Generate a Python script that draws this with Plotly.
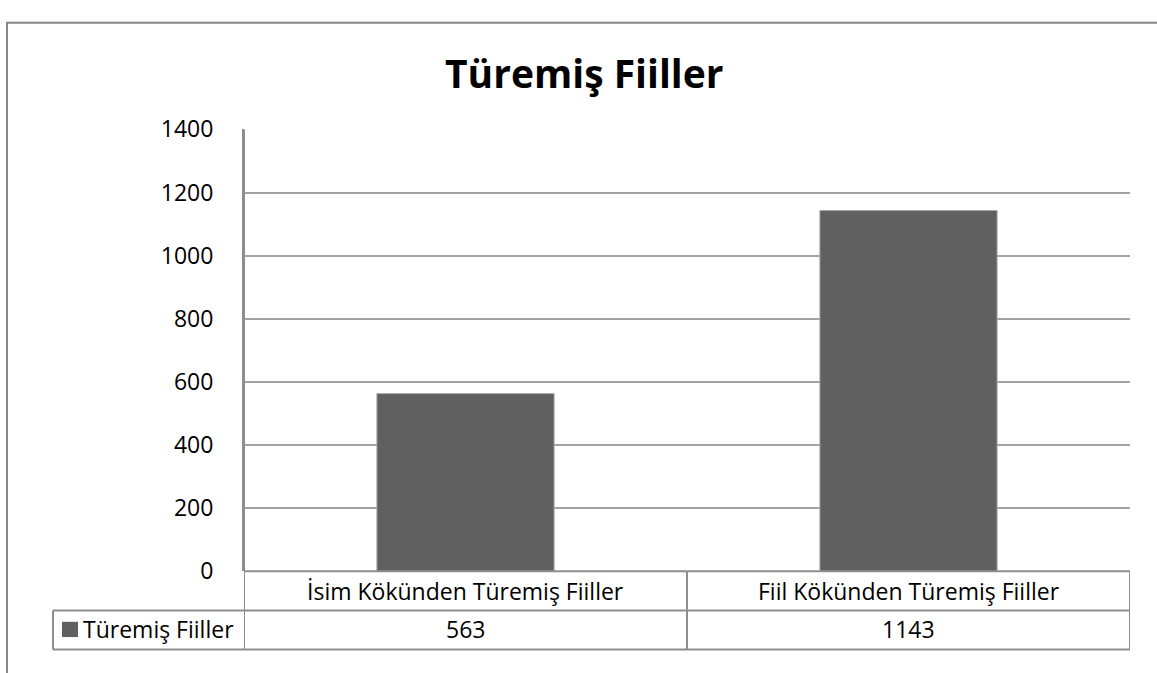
import plotly.graph_objects as go

# ---- data ----
categories = ["İsim Kökünden Türemiş Fiiller", "Fiil Kökünden Türemiş Fiiller"]
series_name = "Türemiş Fiiller"
values = [563, 1143]
title_text = "Türemiş Fiiller"
y_ticks = [0, 200, 400, 600, 800, 1000, 1200, 1400]

W, H = 1157, 673
def px(x):
    return x / W
def py(y):
    return 1 - y / H

BAR_COLOR = "#606060"
GRID = "#a3a3a3"
LINE = "#8e8e8e"
FONT = "Open Sans"
TABLE_FS = 23

fig = go.Figure()
fig.add_trace(go.Bar(
    x=categories, y=values, name=series_name,
    marker=dict(color=BAR_COLOR, line=dict(color="#a8a8a8", width=1)),
    showlegend=False,
))

shapes = []
# outer chart border
shapes.append(dict(type="rect", xref="paper", yref="paper",
                   x0=px(7), x1=px(1170), y0=py(6), y1=py(690),
                   line=dict(color="#888888", width=2), fillcolor="rgba(0,0,0,0)"))
# table horizontal lines
shapes.append(dict(type="line", xref="x", yref="paper", x0=-0.5, x1=1.5,
                   y0=py(582), y1=py(582), line=dict(color=LINE, width=2)))
shapes.append(dict(type="line", xref="paper", yref="paper", x0=px(53), x1=px(1130),
                   y0=py(623), y1=py(623), line=dict(color=LINE, width=2)))
shapes.append(dict(type="line", xref="paper", yref="paper", x0=px(53), x1=px(1130),
                   y0=py(664), y1=py(664), line=dict(color=LINE, width=2)))
# table vertical lines
shapes.append(dict(type="line", xref="x", yref="paper", x0=-0.5, x1=-0.5,
                   y0=py(118), y1=py(664), line=dict(color=LINE, width=2)))
for xv in [0.5, 1.5]:
    shapes.append(dict(type="line", xref="x", yref="paper", x0=xv, x1=xv,
                       y0=py(582), y1=py(664), line=dict(color=LINE, width=2)))
shapes.append(dict(type="line", xref="paper", yref="paper", x0=px(53), x1=px(53),
                   y0=py(623), y1=py(664), line=dict(color=LINE, width=2)))
# legend key
shapes.append(dict(type="rect", xref="paper", yref="paper",
                   x0=px(62), x1=px(78), y0=py(635), y1=py(651),
                   fillcolor=BAR_COLOR, line=dict(width=0)))

annotations = []
for c, v in zip(categories, values):
    annotations.append(dict(x=c, xref="x", y=py(603), yref="paper", text=c,
                            showarrow=False, xanchor="center", yanchor="middle",
                            font=dict(family=FONT, size=TABLE_FS, color="black")))
    annotations.append(dict(x=c, xref="x", y=py(643), yref="paper", text=str(v),
                            showarrow=False, xanchor="center", yanchor="middle",
                            font=dict(family=FONT, size=TABLE_FS, color="black")))
annotations.append(dict(x=px(81), xref="paper", y=py(643), yref="paper", text=series_name,
                        showarrow=False, xanchor="left", yanchor="middle",
                        font=dict(family=FONT, size=TABLE_FS, color="black")))
annotations.append(dict(x=px(584), xref="paper", y=py(58), yref="paper", text="<b>" + title_text + "</b>",
                        showarrow=False, xanchor="center", yanchor="middle",
                        font=dict(family=FONT, size=39, color="black")))

fig.update_layout(
    width=W, height=H,
    margin=dict(l=0, r=0, t=0, b=0),
    paper_bgcolor="white", plot_bgcolor="white",
    bargap=0.6,
    shapes=shapes, annotations=annotations,
    font=dict(family=FONT, color="black"),
    xaxis=dict(domain=[px(244), px(1130)], range=[-0.5, 1.5], showticklabels=False,
               showgrid=False, zeroline=False, showline=False, fixedrange=True),
    yaxis=dict(domain=[py(582), py(118)], range=[0, 1400], tickvals=y_ticks,
               showgrid=True, gridcolor=GRID, gridwidth=2, zeroline=False,
               showline=True, linecolor=LINE, linewidth=2,
               ticks="", ticklabelstandoff=24,
               tickfont=dict(family=FONT, size=23, color="black")),
)

fig.write_html(
    "out.html",
    config={"displayModeBar": False},
    post_script="document.body.style.margin='0';document.body.style.overflow='hidden';",
)
